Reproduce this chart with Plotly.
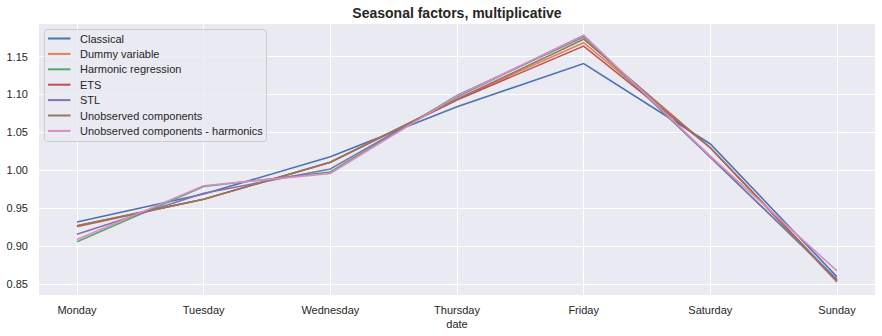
import plotly.graph_objects as go

# Day-of-week seasonal factors from each decomposition method
days = ["Monday", "Tuesday", "Wednesday", "Thursday", "Friday", "Saturday", "Sunday"]

classical = [0.932, 0.969, 1.018, 1.084, 1.141, 1.035, 0.860]
dummy_variable = [0.926, 0.962, 1.011, 1.094, 1.1685, 1.030, 0.854]
harmonic_regression = [0.906, 0.979, 0.998, 1.099, 1.176, 1.018, 0.856]
ets = [0.927, 0.962, 1.011, 1.093, 1.164, 1.030, 0.855]
stl = [0.916, 0.970, 1.002, 1.097, 1.178, 1.018, 0.857]
unobserved_components = [0.927, 0.962, 1.011, 1.094, 1.173, 1.030, 0.853]
uc_harmonics = [0.909, 0.980, 0.996, 1.098, 1.178, 1.019, 0.8677]

series = [
    ("Classical", classical, "#4C72B0"),
    ("Dummy variable", dummy_variable, "#DD8452"),
    ("Harmonic regression", harmonic_regression, "#55A868"),
    ("ETS", ets, "#C44E52"),
    ("STL", stl, "#8172B3"),
    ("Unobserved components", unobserved_components, "#937860"),
    ("Unobserved components - harmonics", uc_harmonics, "#DA8BC3"),
]

W, H = 882, 336
ML, MR, MT, MB = 39, 7, 24, 41
PW, PH = W - ML - MR, H - MT - MB

font_family = "Liberation Sans, Arial, sans-serif"
text_color = "#262626"

fig = go.Figure()
for name, vals, color in series:
    fig.add_trace(go.Scatter(
        x=days, y=vals, mode="lines", name=name,
        line=dict(color=color, width=1.6),
    ))


# Compact legend box in the upper-left corner of the axes (pixel layout -> paper coords)
def px(x):
    return (x - ML) / PW


def py(y):
    return (H - MB - y) / PH


box_l, box_r, box_t, box_b, rad = 44.5, 266.5, 29.5, 141.5, 3
path = (
    f"M {px(box_l + rad)},{py(box_t)} L {px(box_r - rad)},{py(box_t)} "
    f"Q {px(box_r)},{py(box_t)} {px(box_r)},{py(box_t + rad)} "
    f"L {px(box_r)},{py(box_b - rad)} "
    f"Q {px(box_r)},{py(box_b)} {px(box_r - rad)},{py(box_b)} "
    f"L {px(box_l + rad)},{py(box_b)} "
    f"Q {px(box_l)},{py(box_b)} {px(box_l)},{py(box_b - rad)} "
    f"L {px(box_l)},{py(box_t + rad)} "
    f"Q {px(box_l)},{py(box_t)} {px(box_l + rad)},{py(box_t)} Z"
)
fig.add_shape(
    type="path", path=path, xref="paper", yref="paper", layer="above",
    fillcolor="rgba(234,234,242,0.8)", line=dict(color="#CCCCCC", width=1),
)

row0, row_step = 38.5, 15.4
for i, (name, _, color) in enumerate(series):
    yc = row0 + i * row_step
    fig.add_shape(
        type="line", xref="paper", yref="paper", layer="above",
        x0=px(48), x1=px(70.5), y0=py(yc), y1=py(yc),
        line=dict(color=color, width=2),
    )
    fig.add_annotation(
        text=name, xref="paper", yref="paper",
        x=px(78), y=py(yc), xanchor="left", yanchor="middle",
        showarrow=False,
        font=dict(size=11, color=text_color, family=font_family),
    )

fig.update_layout(
    width=W, height=H,
    margin=dict(l=ML, r=MR, t=MT, b=MB),
    paper_bgcolor="white",
    plot_bgcolor="#EAEAF2",
    font=dict(family=font_family, size=11, color=text_color),
    title=dict(
        text="<b>Seasonal factors, multiplicative</b>",
        x=0.5, xanchor="center", xref="paper",
        y=1 - 13 / H, yanchor="middle", yref="container",
        font=dict(size=14, color=text_color, family=font_family),
    ),
    showlegend=False,
    xaxis=dict(
        type="category",
        categoryorder="array", categoryarray=days,
        range=[-0.3, 6.3],
        showgrid=True, gridcolor="white", gridwidth=1.2,
        zeroline=False, showline=False, ticks="",
        ticklabelstandoff=7,
        tickfont=dict(size=11, color=text_color),
        title=dict(text="date", font=dict(size=11, color=text_color), standoff=5),
    ),
    yaxis=dict(
        range=[0.8359, 1.1931],
        tick0=0.85, dtick=0.05, tickformat=".2f",
        showgrid=True, gridcolor="white", gridwidth=1.2,
        zeroline=False, showline=False, ticks="",
        ticklabelstandoff=10,
        tickfont=dict(size=11, color=text_color),
    ),
)

fig.write_html("out.html")
